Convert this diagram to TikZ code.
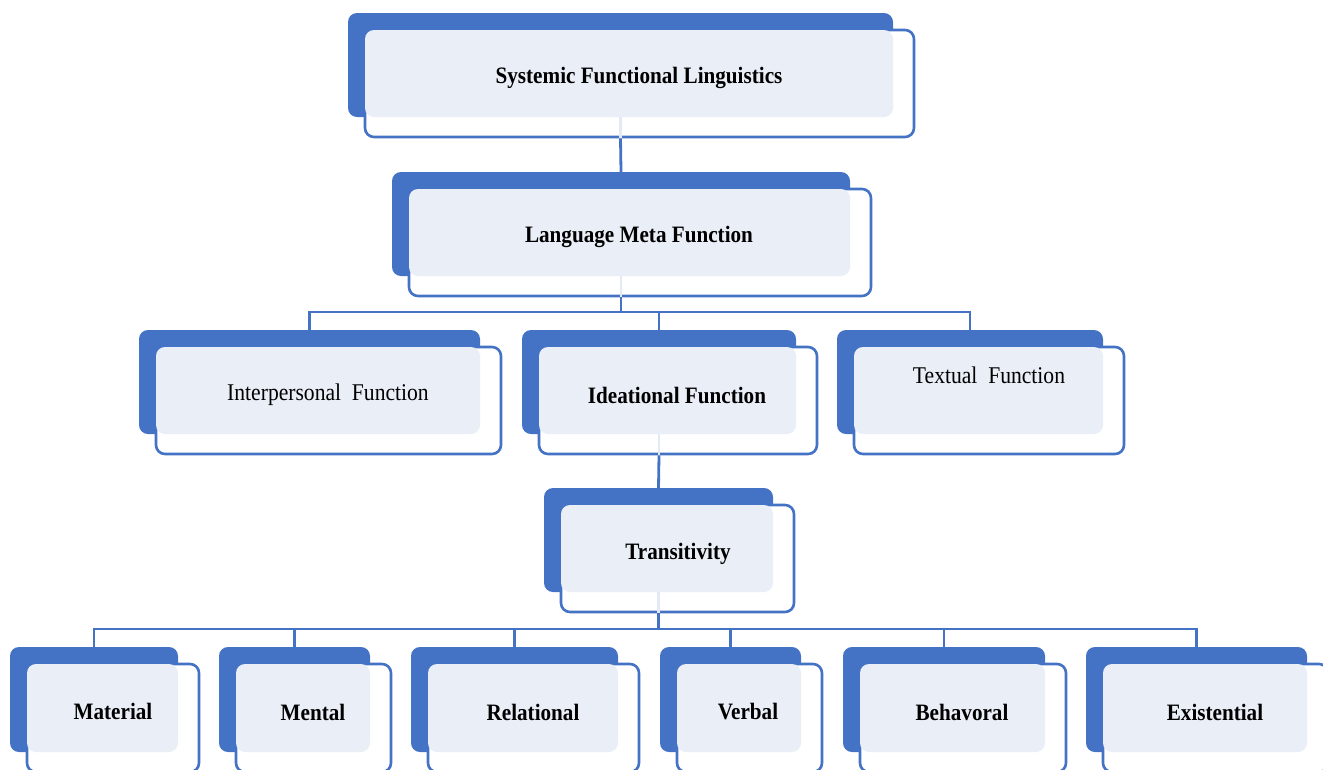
\documentclass[tikz,border=0pt]{standalone}
\usepackage{fontspec}
\usepackage{graphicx}
\setmainfont{Liberation Serif}
\usetikzlibrary{fit}
\definecolor{sfblue}{HTML}{4472C4}
\definecolor{sflight}{HTML}{E9EEF7}
\newcommand\sqz[1]{\scalebox{0.9}[1]{#1}}
\tikzset{
  x=1pt, y=-1pt,
  backbox/.style={fill=sfblue, draw=none, rounded corners=9pt, inner sep=0pt},
  frontbox/.style={fill=white, draw=sfblue, line width=2.6pt, rounded corners=9pt, inner sep=0pt},
  lightbox/.style={fill=sflight, draw=none, rounded corners=9pt, inner sep=0pt},
  conn/.style={draw=sfblue, line width=2.8pt},
  faint/.style={draw=sfblue!15, line width=2.8pt},
  lbl/.style={font=\fontsize{23.5}{26}\selectfont\bfseries, text=black, inner sep=0pt},
  lblr/.style={font=\fontsize{24}{26}\selectfont, text=black, inner sep=0pt},
}
% name, x1, y1, x2, y2 (back rectangle)
\newcommand\sfgroup[5]{%
  \node[backbox, fit={(#2,#3) (#4,#5)}] (b#1) {};
  \node[frontbox, fit={(#2+17,#3+17) (#4+21,#5+20)}] (f#1) {};
  \node[lightbox, fit={(#2+17,#3+17) (#4,#5)}] (l#1) {};
}
\begin{document}
\begin{tikzpicture}
\useasboundingbox (0,0) rectangle (1323,769);
\clip (0,0) rectangle (1323,769);
% boxes
\sfgroup{SFL}{348}{13}{893}{117}
\sfgroup{LMF}{392}{172}{850}{276}
\sfgroup{Int}{139}{330}{480}{434}
\sfgroup{Ide}{522}{330}{796}{434}
\sfgroup{Tex}{837}{330}{1103}{434}
\sfgroup{Tra}{544}{488}{773}{592}
\sfgroup{Mat}{10}{647}{178}{752}
\sfgroup{Men}{219}{647}{370}{752}
\sfgroup{Rel}{411}{647}{618}{752}
\sfgroup{Ver}{660}{647}{801}{752}
\sfgroup{Beh}{843}{647}{1045}{752}
\sfgroup{Exi}{1086}{647}{1307}{752}
% faint connector traces inside boxes
\foreach \n in {SFL,LMF,Ide,Tra}{
  \draw[faint] (b\n.south) -- (b\n.south |- f\n.south);
}
% connectors
\coordinate (bus1) at (0,312);
\coordinate (bus2) at (0,629);
\draw[conn] (bSFL.south |- fSFL.south) -- (bLMF.north);
\draw[conn] (bLMF.south |- fLMF.south) -- (bLMF.south |- bus1);
\draw[conn] (bInt.north) -- (bInt.north |- bus1) -- (bTex.north |- bus1) -- (bTex.north);
\draw[conn] (bIde.north |- bus1) -- (bIde.north);
\draw[conn] (bIde.south |- fIde.south) -- (bTra.north);
\draw[conn] (bTra.south |- fTra.south) -- (bTra.south |- bus2);
\draw[conn] (bMat.north) -- (bMat.north |- bus2) -- (bExi.north |- bus2) -- (bExi.north);
\foreach \n in {Men,Rel,Ver,Beh}{
  \draw[conn] (b\n.north |- bus2) -- (b\n.north);
}
% labels
\node[lbl] (tSFL) at (639,78) {\sqz{Systemic Functional Linguistics}};
\node[lbl] (tLMF) at (639,237) {\sqz{Language Meta Function}};
\node[lblr] (tInt) at (328,395) {\sqz{Interpersonal\ \ Function}};
\node[lbl] (tIde) at (677,395) {\sqz{Ideational Function}};
\node[lblr] (tTex) at (989,375) {\sqz{Textual\ \ Function}};
\node[lbl] (tTra) at (678,554) {\sqz{Transitivity}};
\node[lbl] (tMat) at (113,711) {\sqz{Material}};
\node[lbl] (tMen) at (313,712) {\sqz{Mental}};
\node[lbl] (tRel) at (533,712) {\sqz{Relational}};
\node[lbl] (tVer) at (748,712) {\sqz{Verbal}};
\node[lbl] (tBeh) at (962,712) {\sqz{Behavoral}};
\node[lbl] (tExi) at (1215,712) {\sqz{Existential}};
\end{tikzpicture}
\end{document}
